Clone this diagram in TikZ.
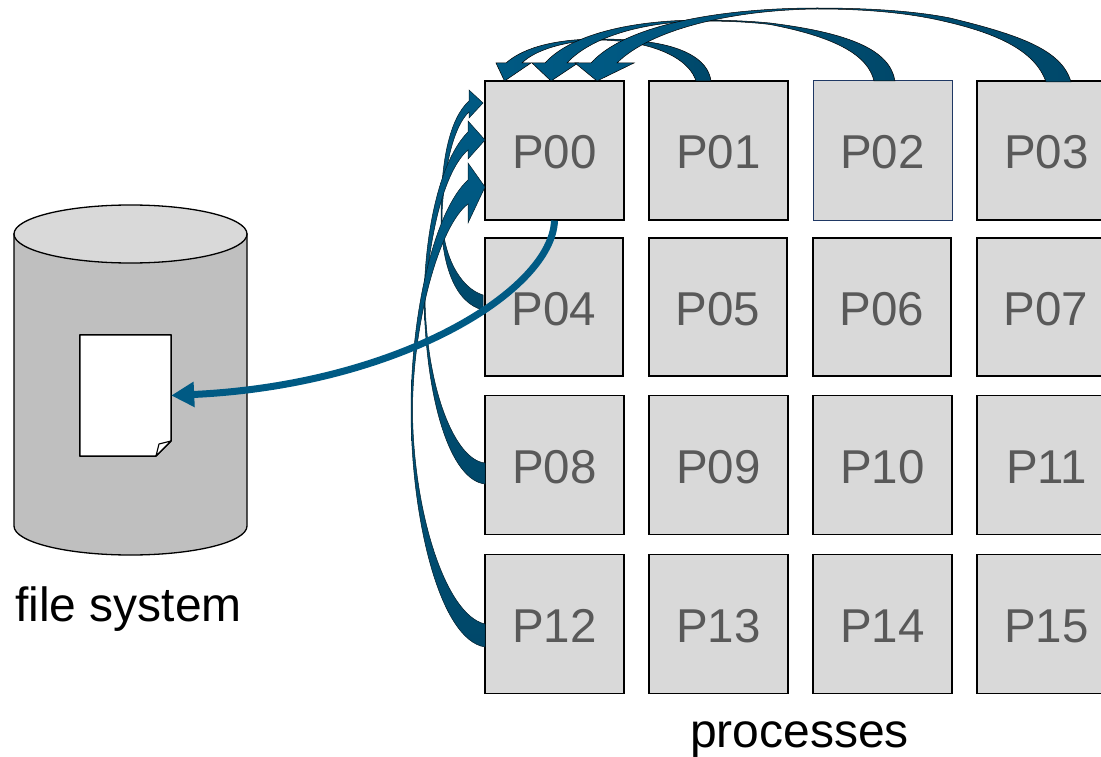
\documentclass[tikz,border=0pt]{standalone}
\usepackage{fontspec}
\setmainfont{Liberation Sans}
\usetikzlibrary{arrows.meta}
\definecolor{arrowlight}{HTML}{005A84}
\definecolor{arrowdark}{HTML}{00486A}
\definecolor{boxfill}{HTML}{D9D9D9}
\definecolor{boxtext}{HTML}{595959}
\definecolor{cylbody}{HTML}{BFBFBF}
\definecolor{navyline}{HTML}{1F3864}
\tikzset{
  procbox/.style={draw=black,fill=boxfill,line width=1.2pt,minimum width=139pt,minimum height=139pt,inner sep=0pt,text=boxtext,text height=37pt,text depth=0pt,font=\fontsize{47.5}{50}\selectfont},
  rowtwo/.style={procbox,minimum width=138pt,minimum height=138pt},
  caption/.style={text=black,inner sep=0pt,font=\fontsize{48}{50}\selectfont},
  blockh/.style={draw=black,line width=0.5pt,left color=arrowlight,right color=arrowdark},
  blockv/.style={draw=black!60!arrowdark,line width=0.5pt,top color=arrowlight,bottom color=arrowdark},
  cyl/.style={draw=black,line width=1.3pt},
  writearrow/.style={draw=arrowlight,line width=7pt,-{Triangle[length=23pt,width=24pt]}}
}
\begin{document}
\begin{tikzpicture}[x=1pt,y=-1pt]
\useasboundingbox (0,0) rectangle (1101,757);
\clip (0,0) rectangle (1101,757);
% cylinder
\draw[cyl,fill=cylbody] (14,234) -- (14,526) arc[start angle=180,end angle=360,x radius=116.5,y radius=-29] -- (247,234) -- cycle;
\draw[cyl,fill=boxfill] (130.5,234) ellipse[x radius=116.5,y radius=29];
% file
\node[inner sep=0pt,minimum width=91pt,minimum height=121pt] (file) at (125.5,395.5) {};
\draw[line width=1.5pt,fill=white,line join=round] (file.north west) -- (file.north east) -- (171,441) -- (156,456) -- (file.south west) -- cycle;
\draw[line width=1.1pt,fill=white,line join=round] (171,441) -- (159,444) -- (156,456) -- cycle;
% boxes
\node[procbox] (p00) at (554.5,150.5) {P00};
\node[procbox] (p01) at (718.5,150.5) {P01};
\node[procbox,draw=navyline,line width=1pt] (p02) at (882.5,150.5) {P02};
\node[procbox] (p03) at (1046.5,150.5) {P03};
\node[rowtwo] (p04) at (554,307) {P04};
\node[rowtwo] (p05) at (718,307) {P05};
\node[rowtwo] (p06) at (882,307) {P06};
\node[rowtwo] (p07) at (1046,307) {P07};
\node[procbox] (p08) at (554.5,465) {P08};
\node[procbox] (p09) at (718.5,465) {P09};
\node[procbox] (p10) at (882.5,465) {P10};
\node[procbox] (p11) at (1046.5,465) {P11};
\node[procbox] (p12) at (554.5,624) {P12};
\node[procbox] (p13) at (718.5,624) {P13};
\node[procbox] (p14) at (882.5,624) {P14};
\node[procbox] (p15) at (1046.5,624) {P15};
% top block arrows
\draw[blockh] (711,81) .. controls (708,58) and (680,45) .. (640,41) .. controls (626,39.5) and (612,39) .. (598,39) .. controls (560,39) and (525,46) .. (506,63) -- (496,63) -- (504.5,81) -- (531,63) -- (522,63) .. controls (535,50) and (565,41) .. (598,40) .. controls (608,40) and (620,41) .. (630,42.5) .. controls (665,48) and (690,62) .. (696,81) -- cycle;
\draw[blockh] (895,81) .. controls (890,50) and (850,33) .. (770,23) .. controls (750,21) and (725,20) .. (702,20) .. controls (630,20) and (570,35) .. (545,63) -- (532,63) -- (551,81) -- (578,63) -- (567,63) .. controls (590,38) and (640,22) .. (702,21) .. controls (725,21) and (750,22) .. (770,24.5) .. controls (835,37) and (868,55) .. (874,81) -- cycle;
\draw[blockh] (1071,82) .. controls (1062,50) and (1020,35) .. (950,18) .. controls (910,10) and (860,8) .. (817,8) .. controls (720,8) and (625,25) .. (591,63) -- (575,63) -- (597,81) -- (634,63) -- (617,63) .. controls (650,30) and (730,10) .. (817,9) .. controls (860,9) and (905,12) .. (945,21.5) .. controls (995,33) and (1035,50) .. (1046,82) -- cycle;
% left block arrows
\draw[blockv] (483,310) .. controls (455,303) and (441,265) .. (441,213) .. controls (441,160) and (450,118) .. (469,101) -- (469,90) -- (483,103) -- (469,118) -- (469,112) .. controls (455,125) and (445,160) .. (442,213) .. controls (442,255) and (460,288) .. (483,295) -- cycle;
\draw[blockv] (485,484) .. controls (450,480) and (426,400) .. (424,300) .. controls (425,230) and (440,160) .. (468,132) -- (468,121) -- (485,140) -- (468,159) -- (468,150) .. controls (445,170) and (430,230) .. (425,300) .. controls (427,390) and (455,460) .. (485,463) -- cycle;
\draw[blockv] (485,647) .. controls (440,640) and (411,520) .. (411,410) .. controls (411,310) and (435,210) .. (468,180) -- (468,163) -- (485,187) -- (468,223) -- (468,204) .. controls (440,225) and (413,320) .. (412.5,410) .. controls (413,510) and (445,615) .. (485,624) -- cycle;
% write arrow
\draw[writearrow] (p00.south) .. controls (552,290) and (400,385) .. (file.east);
% captions
\node[caption] (fs) at (128.5,609) {file system};
\node[caption] (pr) at (799.5,740) {processes};
\end{tikzpicture}
\end{document}
